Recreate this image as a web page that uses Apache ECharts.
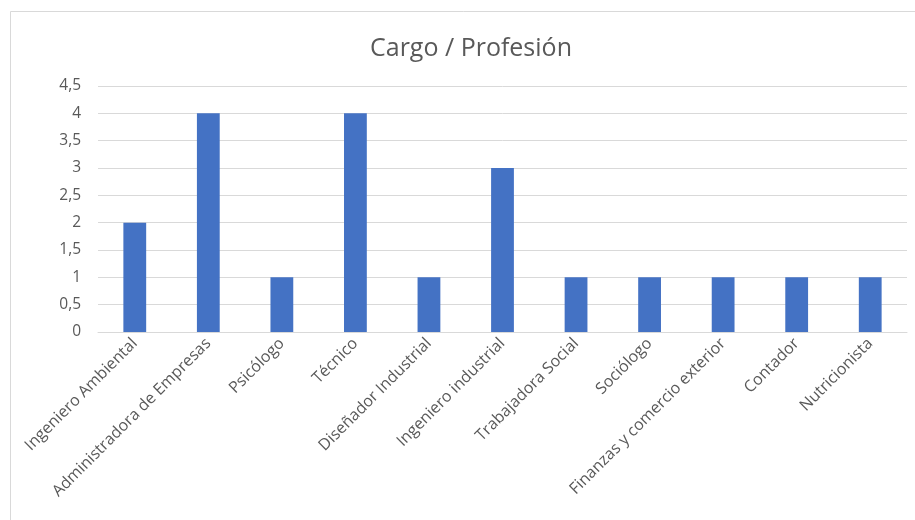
<!DOCTYPE html>
<html><head><meta charset="utf-8">
<script src="https://cdn.jsdelivr.net/npm/echarts@6/dist/echarts.min.js"></script>
<style>html,body{margin:0;padding:0;background:#fff}#c{width:915px;height:520px}</style>
</head><body><div id="c"></div>
<script>
const categories = ["Ingeniero Ambiental","Administradora de Empresas","Psicólogo","Técnico","Diseñador Industrial","Ingeniero industrial","Trabajadora Social","Sociólogo","Finanzas y comercio exterior","Contador","Nutricionista"];
const values = [2,4,1,4,1,3,1,1,1,1,1];
const titleText = "Cargo / Profesión";
const yMin = 0, yMax = 4.5, yStep = 0.5;

const chart = echarts.init(document.getElementById('c'), null, {renderer:'canvas'});
chart.setOption({
  backgroundColor:'#fff',
  animation:false,
  graphic:[{type:'rect',shape:{x:10.5,y:11.5,width:920,height:530},style:{fill:'none',stroke:'#d9d9d9',lineWidth:1},silent:true,z:-1}],
  title:{text:titleText,left:365,top:31,textStyle:{fontFamily:'Open Sans',fontWeight:'normal',fontSize:25,color:'#595959'}},
  grid:{left:98,right:8,top:86,bottom:188},
  xAxis:{type:'category',data:categories,
    axisLine:{lineStyle:{color:'#d9d9d9'}},axisTick:{show:false},
    axisLabel:{rotate:45,interval:0,fontFamily:'Open Sans',fontSize:16,color:'#595959',margin:9}},
  yAxis:{type:'value',min:yMin,max:yMax,interval:yStep,
    axisLine:{show:false},axisTick:{show:false},
    splitLine:{lineStyle:{color:'#d9d9d9'}},
    axisLabel:{fontFamily:'Open Sans',fontSize:15.5,color:'#595959',margin:17,
      formatter:v=>String(v).replace('.',',')}},
  series:[{type:'bar',data:values,barWidth:'31%',itemStyle:{color:'#4472c4'}}]
});
</script></body></html>
